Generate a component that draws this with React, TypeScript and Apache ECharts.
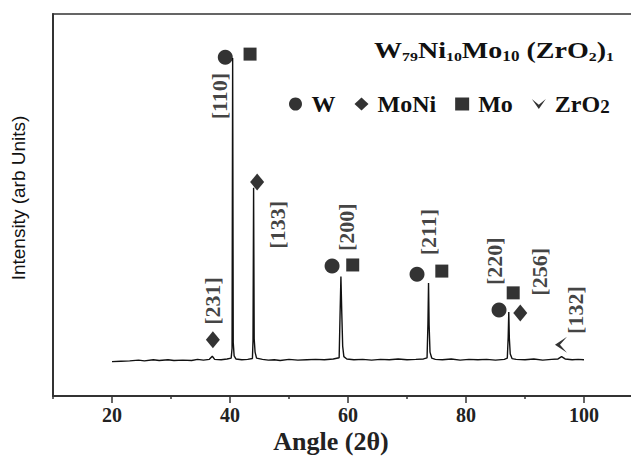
import React, { useEffect, useRef } from "react";
import * as echarts from "echarts";

// XRD pattern: angle (2θ) and intensity (arbitrary units)
const angles = [
  20.0, 21.5, 23.0, 24.5, 25.5, 27.0, 28.0, 29.5, 30.5, 32.0, 33.5, 34.5, 35.5, 36.5, 37.0, 37.4,
  38.5, 39.5, 40.2, 40.35, 40.45, 40.55, 40.7, 41.0, 42.0, 43.0, 43.8, 43.9, 44.0, 44.1, 44.25,
  44.5, 45.5, 46.5, 47.5, 48.5, 50.0, 51.5, 53.0, 54.5, 56.0, 57.5, 58.5, 58.65, 58.8, 58.95,
  59.1, 59.3, 59.8, 61.0, 62.5, 64.0, 65.5, 67.0, 68.5, 70.0, 71.5, 72.8, 73.4, 73.55, 73.65,
  73.75, 73.9, 74.2, 74.8, 76.0, 77.5, 79.0, 80.5, 82.0, 83.5, 85.0, 86.5, 87.0, 87.15, 87.25,
  87.35, 87.5, 87.8, 88.5, 90.0, 91.5, 93.0, 94.5, 95.6, 96.2, 96.8, 98.0, 99.0, 100.0,
];
const intensities = [
  9.0, 9.1, 9.2, 9.4, 9.2, 9.5, 9.3, 9.5, 9.3, 9.4, 9.3, 9.6, 9.4, 9.6, 10.4, 9.6,
  9.5, 9.7, 9.9, 12.5, 88.5, 14.0, 10.5, 9.7, 9.5, 9.6, 9.8, 14.5, 54.5, 15.0, 11.5,
  9.9, 9.6, 9.4, 9.5, 9.3, 9.6, 9.4, 9.5, 9.6, 9.5, 9.7, 10.0, 21.0, 31.3, 21.5,
  13.0, 10.3, 9.7, 9.5, 9.6, 9.4, 9.6, 9.5, 9.7, 9.5, 9.6, 9.7, 10.0, 19.0, 29.6,
  18.5, 11.5, 9.9, 9.6, 9.5, 9.7, 9.4, 9.6, 9.5, 9.6, 9.4, 9.6, 9.9, 15.4, 22.0,
  15.0, 11.0, 9.8, 9.6, 9.5, 9.7, 9.4, 9.6, 9.7, 10.3, 9.7, 9.5, 9.6, 9.5,
];

// Phase markers
const wX = [39.2, 57.3, 71.7, 85.6];
const wY = [88.7, 34.0, 31.9, 22.5];
const moX = [43.4, 60.8, 75.9, 88.0];
const moY = [89.5, 34.3, 32.7, 27.0];
const moNiX = [37.1, 44.6, 89.2];
const moNiY = [14.7, 56.0, 21.7];
const zrX = [96.1];
const zrY = [13.4];

// Miller index labels
const peakLabels = ["[110]", "[231]", "[133]", "[200]", "[211]", "[220]", "[256]", "[132]"];
const labelX = [38.3, 37.1, 48.1, 59.8, 73.6, 84.9, 92.4, 98.5];
const labelY = [78.5, 24.9, 44.8, 44.2, 42.9, 35.3, 32.5, 22.5];

const xTickLabels = [20, 40, 60, 80, 100];
const xMinorTicks = [10, 30, 50, 70, 90];

const SERIF = "'Liberation Serif', 'Times New Roman', serif";
const SANS = "'Liberation Sans', Arial, sans-serif";
const CHEVRON_DOWN = "path://M0,0L10,14L20,0L10,8Z";
const CHEVRON_LEFT = "path://M0,10L12,0L5,10L12,20Z";

export default function App() {
  const ref = useRef<HTMLDivElement>(null);

  useEffect(() => {
    if (!ref.current) return;
    const chart = echarts.init(ref.current, undefined, { renderer: "svg" });
    const zip = (xs: number[], ys: number[]) => xs.map((x, i) => [x, ys[i]]);

    const option: any = {
      animation: false,
      backgroundColor: "#fff",
      grid: {
        left: 53,
        top: 14,
        width: 590,
        height: 382,
        show: true,
        borderColor: "#333",
        borderWidth: 1.5,
      },
      xAxis: [
        {
          type: "value",
          min: 10,
          max: 110,
          position: "bottom",
          axisLine: { show: true, lineStyle: { color: "#333", width: 2 } },
          axisTick: { show: true, customValues: xTickLabels, length: 7, lineStyle: { color: "#333", width: 1.5 } },
          axisLabel: {
            show: true,
            customValues: xTickLabels,
            margin: 9,
            fontFamily: SERIF,
            fontWeight: "bold",
            fontSize: 20,
            color: "#222",
          },
          splitLine: { show: false },
        },
        {
          type: "value",
          min: 10,
          max: 110,
          position: "bottom",
          axisLine: { show: false },
          axisTick: { show: true, customValues: xMinorTicks, length: 3, lineStyle: { color: "#333", width: 1.5 } },
          axisLabel: { show: false },
          splitLine: { show: false },
        },
      ],
      yAxis: {
        type: "value",
        min: 0,
        max: 100,
        axisLine: { show: true, lineStyle: { color: "#333", width: 2 } },
        axisTick: { show: false },
        axisLabel: { show: false },
        splitLine: { show: false },
      },
      legend: {
        left: 284,
        top: 87,
        itemGap: 19,
        itemWidth: 14,
        itemHeight: 13,
        selectedMode: false,
        data: [
          { name: "W", icon: "circle" },
          { name: "MoNi", icon: "diamond" },
          { name: "Mo", icon: "rect" },
          { name: "ZrO2", icon: CHEVRON_DOWN },
        ],
        formatter: (n: string) => (n === "ZrO2" ? "{n|ZrO}{s|2}" : n),
        textStyle: {
          fontFamily: SERIF,
          fontWeight: "bold",
          fontSize: 24,
          color: "#111",
          padding: [0, 0, 0, 4],
          rich: {
            n: { fontFamily: SERIF, fontWeight: "bold", fontSize: 24, color: "#111", lineHeight: 24 },
            s: { fontFamily: SERIF, fontWeight: "bold", fontSize: 19, color: "#111", lineHeight: 10, verticalAlign: "bottom" },
          },
        },
      },
      graphic: [
        {
          type: "text",
          x: 374,
          y: 50,
          scaleX: 1.22,
          style: {
            text: "{n|W}{s|79}{n|Ni}{s|10}{n|Mo}{t|10}{n| (ZrO}{s|2}{n|)}{s|1}",
            verticalAlign: "middle",
            fill: "#111",
            rich: {
              n: { fontFamily: SERIF, fontWeight: "bold", fontSize: 23, fill: "#111", lineHeight: 26 },
              s: { fontFamily: SERIF, fontWeight: "bold", fontSize: 13, fill: "#111", lineHeight: 8, verticalAlign: "bottom" },
              t: { fontFamily: SERIF, fontWeight: "bold", fontSize: 14, fill: "#111", lineHeight: 16, verticalAlign: "bottom" },
            },
          },
        },
        {
          type: "text",
          x: 18,
          y: 198,
          rotation: Math.PI / 2,
          style: {
            text: "Intensity (arb Units)",
            fontFamily: SANS,
            fontSize: 19,
            fill: "#111",
            align: "center",
            verticalAlign: "middle",
          },
        },
        {
          type: "text",
          x: 331,
          y: 441,
          style: {
            text: "Angle (2θ)",
            fontFamily: SERIF,
            fontWeight: "bold",
            fontSize: 26,
            fill: "#222",
            align: "center",
            verticalAlign: "middle",
          },
        },
      ],
      series: [
        {
          type: "line",
          name: "pattern",
          data: zip(angles, intensities),
          showSymbol: false,
          symbol: "none",
          lineStyle: { color: "#111", width: 1.4 },
          z: 2,
        },
        {
          type: "scatter",
          name: "W",
          data: zip(wX, wY),
          symbol: "circle",
          symbolSize: 15,
          itemStyle: { color: "#000" },
          z: 3,
        },
        {
          type: "scatter",
          name: "MoNi",
          data: zip(moNiX, moNiY),
          symbol: "diamond",
          symbolSize: [14, 17],
          itemStyle: { color: "#000" },
          z: 3,
        },
        {
          type: "scatter",
          name: "Mo",
          data: zip(moX, moY),
          symbol: "rect",
          symbolSize: 13,
          itemStyle: { color: "#000" },
          z: 3,
        },
        {
          type: "scatter",
          name: "ZrO2",
          data: zip(zrX, zrY),
          symbol: CHEVRON_LEFT,
          symbolSize: [12, 16],
          itemStyle: { color: "#000" },
          z: 3,
        },
        {
          type: "scatter",
          name: "labels",
          data: peakLabels.map((t, i) => ({ name: t, value: [labelX[i], labelY[i]] })),
          symbolSize: 1,
          itemStyle: { color: "rgba(0,0,0,0)" },
          label: {
            show: true,
            position: "inside",
            rotate: 90,
            formatter: (p: any) => p.name,
            fontFamily: SERIF,
            fontWeight: "bold",
            fontSize: 22,
            color: "#111",
            align: "center",
            verticalAlign: "middle",
          },
          z: 4,
        },
      ],
    };
    chart.setOption(option);
    return () => chart.dispose();
  }, []);

  return (
    <div style={{ width: 631, height: 464, position: "absolute", left: 0, top: 0, overflow: "hidden" }}>
      <div ref={ref} style={{ width: 660, height: 464 }} />
    </div>
  );
}
